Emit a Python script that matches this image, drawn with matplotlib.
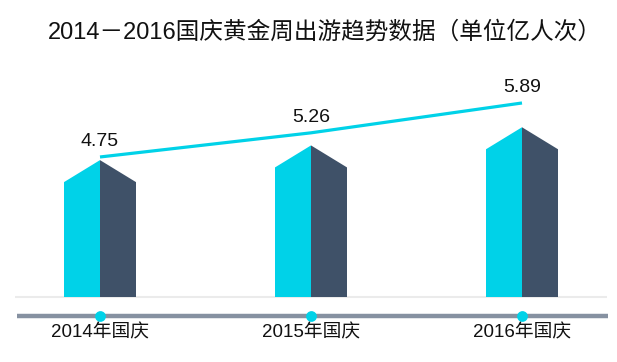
import matplotlib
matplotlib.use("Agg")
import matplotlib.pyplot as plt
import numpy as np

plt.rcParams['font.family'] = ['Liberation Sans', 'Noto Sans CJK SC', 'DejaVu Sans']

categories = ["2014年国庆", "2015年国庆", "2016年国庆"]
values = [4.75, 5.26, 5.89]
value_labels = ["4.75", "5.26", "5.89"]
title = "2014－2016国庆黄金周出游趋势数据（单位亿人次）"

CYAN = "#00D2E8"
DARK = "#3F5168"
AXIS = "#8691A1"
BASE = "#EBEBEB"

W, H = 617, 362
fig = plt.figure(figsize=(W / 100, H / 100), dpi=100)
ax = fig.add_axes([0, 0, 1, 1])

# pixel-based scale setup
px_unit_x = 1 / 211.0
x0_px = 100
ax.set_xlim(-x0_px * px_unit_x, (W - x0_px) * px_unit_x)
py = 0.0347  # value per pixel
base_px = 297
ax.set_ylim(-(H - base_px) * py, base_px * py)
ax.axis('off')

x = np.arange(len(categories))
half = 36 * px_unit_x
drop = 22 * py
for xi, v in zip(x, values):
    ax.fill([xi - half, xi - half, xi, xi], [0, v - drop, v, 0], color=CYAN, lw=0, zorder=3)
    ax.fill([xi, xi, xi + half, xi + half], [0, v, v - drop, 0], color=DARK, lw=0, zorder=3)

trans = ax.get_yaxis_transform()
ax.plot([15 / W, 607 / W], [0, 0], color=BASE, lw=1.5, transform=trans, zorder=1, solid_capstyle='butt')
axis_y = -(316 - base_px) * py
ax.plot([17 / W, 608 / W], [axis_y, axis_y], color=AXIS, lw=3.2, transform=trans, zorder=2, solid_capstyle='butt')
ax.scatter(x, [axis_y] * len(x), s=60, color=CYAN, zorder=4, linewidths=0)
label_y = -(333 - base_px) * py
for xi, c in zip(x, categories):
    ax.text(xi, label_y, c, ha='center', va='center', fontsize=13.5, color='#111111')

# line on secondary scale
ax2 = fig.add_axes([0, 0, 1, 1], sharex=ax)
ax2.set_ylim(0.422, 8.064)
ax2.axis('off')
ax2.patch.set_alpha(0)
ax2.plot(x, values, color=CYAN, lw=2.3, zorder=5, solid_capstyle='butt')
for xi, v, lab in zip(x, values, value_labels):
    ax2.annotate(lab, (xi, v), xytext=(0, 11), textcoords='offset points',
                 ha='center', va='center', fontsize=14, color='#111111')

fig.text(325 / W, 1 - 32 / H, title, ha='center', va='center', fontsize=17, color='#111111')

fig.savefig("out.png", dpi=100)
